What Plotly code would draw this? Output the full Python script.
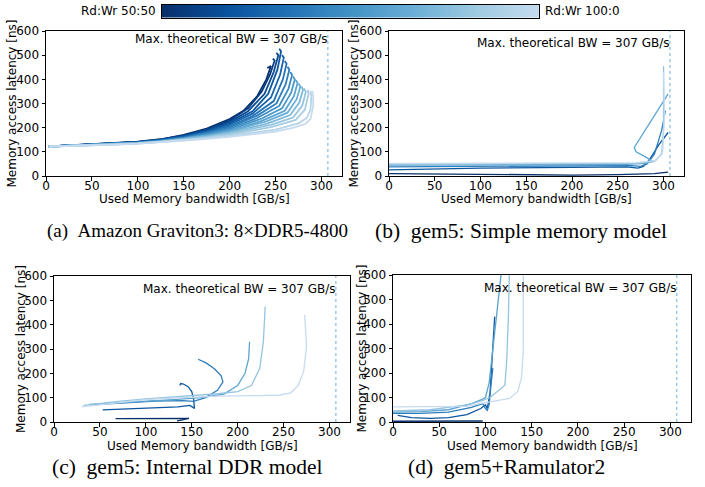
import plotly.graph_objects as go
from plotly.colors import sample_colorscale

# ---------------- data ----------------
MAX_BW = 307
X_TICKS = [0, 50, 100, 150, 200, 250, 300]
Y_TICKS = [0, 100, 200, 300, 400, 500, 600]
CBAR_LEFT = "Rd:Wr 50:50"
CBAR_RIGHT = "Rd:Wr 100:0"
ANNOT = "Max. theoretical BW = 307 GB/s"
X_TITLE = "Used Memory bandwidth [GB/s]"
Y_TITLE = "Memory access latency [ns]"
CAPTIONS = ["(a)\u2002Amazon Graviton3: 8\u00d7DDR5-4800",
            "(b)\u2002gem5: Simple memory model",
            "(c)\u2002gem5: Internal DDR model",
            "(d)\u2002gem5+Ramulator2"]

# (a) Amazon Graviton3 : curves ordered from Rd:Wr 50:50 (dark) to 100:0 (light)
A_X = [
    [3, 25, 50, 75, 100, 125, 150, 175, 200, 215, 230, 240, 245, 241],
    [3, 25, 50, 75, 100, 125, 150, 175, 200, 220, 235, 244, 249, 247],
    [3, 25, 50, 75, 100, 125, 150, 175, 200, 220, 238, 248, 253, 251],
    [3, 25, 50, 75, 100, 125, 150, 175, 200, 225, 242, 252, 256, 254],
    [3, 25, 50, 75, 100, 125, 150, 175, 200, 225, 245, 255, 259, 257],
    [3, 25, 50, 75, 100, 125, 150, 175, 200, 225, 248, 258, 262, 260],
    [3, 25, 50, 75, 100, 125, 150, 175, 200, 230, 251, 261, 265, 263],
    [3, 25, 50, 75, 100, 125, 150, 175, 200, 230, 254, 264, 268, 266],
    [3, 25, 50, 75, 100, 125, 150, 175, 200, 235, 257, 267, 271, 269],
    [3, 25, 50, 75, 100, 125, 150, 175, 200, 235, 260, 270, 274, 272],
    [3, 25, 50, 75, 100, 125, 150, 175, 200, 240, 263, 273, 277, 275],
    [3, 25, 50, 75, 100, 125, 150, 175, 200, 240, 266, 276, 280, 278],
    [3, 25, 50, 75, 100, 125, 150, 175, 200, 245, 269, 279, 283, 281],
    [3, 25, 50, 75, 100, 125, 150, 175, 200, 245, 272, 282, 286, 285],
    [3, 25, 50, 75, 100, 125, 150, 175, 200, 250, 275, 284, 288, 289, 288],
    [3, 25, 50, 75, 100, 125, 150, 175, 200, 250, 270, 282, 288, 291, 291, 290],
]
A_Y = [
    [122, 127, 131, 136, 142, 152, 170, 196, 236, 270, 330, 400, 455, 447],
    [122, 127, 131, 136, 141, 151, 168, 193, 230, 280, 350, 420, 478, 486],
    [122, 126, 130, 135, 140, 150, 166, 190, 224, 268, 340, 430, 500, 510],
    [122, 126, 130, 135, 140, 149, 164, 186, 218, 268, 340, 440, 515, 527],
    [122, 126, 130, 134, 139, 148, 162, 183, 212, 258, 325, 420, 490, 500],
    [122, 126, 129, 134, 139, 147, 160, 180, 206, 248, 310, 400, 465, 476],
    [122, 125, 129, 133, 138, 146, 158, 177, 201, 250, 300, 380, 440, 452],
    [122, 125, 129, 133, 138, 145, 157, 174, 196, 240, 290, 360, 418, 430],
    [122, 125, 128, 133, 137, 144, 155, 171, 191, 238, 280, 345, 400, 412],
    [122, 125, 128, 132, 137, 143, 154, 168, 187, 228, 270, 330, 385, 396],
    [122, 125, 128, 132, 136, 142, 153, 166, 183, 226, 262, 318, 370, 382],
    [122, 125, 127, 131, 136, 142, 152, 164, 179, 216, 252, 305, 358, 370],
    [122, 124, 127, 131, 135, 141, 150, 161, 175, 212, 242, 290, 348, 362],
    [122, 124, 127, 131, 135, 141, 149, 159, 171, 202, 232, 275, 340, 356],
    [122, 124, 126, 130, 134, 140, 148, 156, 166, 192, 218, 240, 275, 330, 352],
    [122, 124, 126, 130, 134, 139, 147, 154, 162, 184, 200, 215, 235, 290, 330, 352],
]

# (b) gem5 simple memory model
B_X = [
    [0, 50, 100, 150, 200, 250, 290, 305],
    [0, 100, 200, 260, 272, 278, 285, 295, 305],
    [0, 100, 200, 265, 275, 282, 290, 298, 302],
    [0, 100, 200, 260, 280, 288, 282, 270, 268, 275, 290, 305],
    [0, 100, 200, 270, 290, 298, 300, 300],
    [0, 100, 200, 270, 292, 299, 301, 300],
]
B_Y = [
    [10, 8, 6, 4, 4, 6, 10, 16],
    [25, 33, 36, 38, 33, 40, 70, 130, 180],
    [38, 40, 42, 43, 40, 50, 90, 190, 270],
    [45, 46, 47, 48, 52, 60, 75, 100, 118, 160, 245, 340],
    [48, 49, 50, 52, 60, 90, 200, 455],
    [52, 52, 53, 55, 65, 100, 250, 430],
]

# (c) gem5 internal DDR model
C_X = [
    [67, 100, 140, 147, 140, 134],
    [53, 80, 110, 135, 148, 153, 152, 150, 146, 141, 138, 137],
    [45, 80, 110, 140, 152, 165, 178, 184, 182, 175, 166, 157],
    [38, 70, 100, 130, 160, 185, 200, 208, 212, 213],
    [32, 70, 100, 140, 175, 200, 215, 224, 228, 230],
    [30, 70, 100, 140, 180, 220, 245, 258, 266, 272, 275, 273],
]
C_Y = [
    [14, 14, 14, 15, 9, 5],
    [50, 54, 58, 62, 68, 56, 95, 125, 145, 156, 158, 150],
    [72, 80, 86, 88, 85, 100, 130, 165, 190, 218, 242, 258],
    [72, 78, 86, 92, 100, 115, 150, 200, 260, 330],
    [68, 85, 95, 105, 115, 125, 150, 220, 330, 475],
    [62, 80, 92, 100, 106, 108, 110, 120, 150, 210, 310, 440],
]

# (d) gem5 + Ramulator2
D_X = [
    [0, 40, 80, 97],
    [5, 20, 40, 60, 80, 95, 100, 102, 105, 108, 110],
    [0, 30, 60, 85, 97, 100, 102, 104, 106, 108],
    [0, 30, 60, 85, 95, 100, 104, 108, 112, 118],
    [0, 40, 80, 95, 105, 115, 121, 123, 125, 126],
    [0, 40, 80, 94, 110, 126, 135, 139, 141, 141],
]
D_Y = [
    [3, 3, 3, 4],
    [27, 18, 15, 18, 30, 55, 70, 55, 120, 300, 430],
    [35, 35, 40, 60, 75, 55, 48, 70, 150, 220],
    [40, 42, 50, 75, 90, 100, 160, 300, 450, 640],
    [45, 50, 70, 85, 100, 130, 150, 250, 450, 640],
    [62, 62, 64, 75, 85, 96, 125, 180, 293, 640],
]

# ---------------- style ----------------
W, H = 705, 487
BLUES = [[0.0, '#08306b'], [0.167, '#08519c'], [0.333, '#2171b5'], [0.5, '#4292c6'],
         [0.667, '#6baed6'], [0.833, '#9ecae1'], [1.0, '#c6dbef']]
SANS = "DejaVu Sans"
SERIF = "Liberation Serif"
FS = 12

# panel boxes in pixels: (left, right, top, bottom)
BOXES = [(46, 342, 31, 176), (389, 684, 31, 176), (54, 350, 276, 422), (393, 691, 275, 422)]
CBAR_BOX = (162, 539, 4.5, 18)


def px(xp):
    return xp / W


def py(yp):
    return 1 - yp / H


fig = go.Figure()

panels = [(A_X, A_Y, 1.8), (B_X, B_Y, 1.3), (C_X, C_Y, 1.3), (D_X, D_Y, 1.3)]
for k, (xs, ys, lw) in enumerate(panels):
    n = len(xs)
    cols = sample_colorscale(BLUES, [i / (n - 1) for i in range(n)])
    xa = 'x' if k == 0 else f'x{k + 1}'
    ya = 'y' if k == 0 else f'y{k + 1}'
    for i in range(n):
        fig.add_trace(go.Scatter(x=xs[i], y=ys[i], mode='lines',
                                 line=dict(color=cols[i], width=lw),
                                 xaxis=xa, yaxis=ya, showlegend=False,
                                 hoverinfo='skip'))

# colour bar drawn as a gradient strip on its own axes
grad = [i / 199 for i in range(200)]
fig.add_trace(go.Heatmap(z=[grad, grad], x0=0, dx=1 / 199, y=[0, 1], colorscale=BLUES,
                         zmin=0, zmax=1, showscale=False, zsmooth='best',
                         xaxis='x5', yaxis='y5', hoverinfo='skip'))

layout = dict(width=W, height=H, margin=dict(l=0, r=0, t=0, b=0, autoexpand=False),
              paper_bgcolor='white', plot_bgcolor='white', showlegend=False)

annotations = []
shapes = []
annot_y = [565, 550, 548, 548]
xt_y = [199, 199, 445.5, 445.5]
yt_x = [12, 354, 21, 361]
cap_pos = [(197, 231), (521, 231), (187, 466.5), (506, 466.5)]
cap_size = [19, 21.5, 21.5, 21.5]

for k, (l, r, t, b) in enumerate(BOXES):
    sfx = '' if k == 0 else str(k + 1)
    axis_common = dict(showgrid=False, zeroline=False, showline=True, mirror=True,
                       linecolor='black', linewidth=1, ticks='outside', ticklen=3.5,
                       tickwidth=1, tickcolor='black',
                       tickfont=dict(family=SANS, size=FS, color='black'))
    layout['xaxis' + sfx] = dict(domain=[px(l), px(r)], range=[0, 322.35], tickvals=X_TICKS,
                                 anchor='y' + sfx, ticklabelstandoff=-5, **axis_common)
    layout['yaxis' + sfx] = dict(domain=[py(b), py(t)], range=[0, 600], tickvals=Y_TICKS,
                                 anchor='x' + sfx, **axis_common)
    annotations.append(dict(text=ANNOT, x=309, y=annot_y[k], xref='x' + sfx, yref='y' + sfx,
                            xanchor='right', yanchor='middle', showarrow=False,
                            font=dict(family=SANS, size=FS, color='black')))
    annotations.append(dict(text=X_TITLE, x=px((l + r) / 2), y=py(xt_y[k]), xref='paper', yref='paper',
                            xanchor='center', yanchor='middle', showarrow=False,
                            font=dict(family=SANS, size=FS, color='black')))
    annotations.append(dict(text=Y_TITLE, x=px(yt_x[k]), y=py((t + b) / 2), xref='paper', yref='paper',
                            xanchor='center', yanchor='middle', showarrow=False, textangle=-90,
                            font=dict(family=SANS, size=FS, color='black')))
    annotations.append(dict(text=CAPTIONS[k], x=px(cap_pos[k][0]), y=py(cap_pos[k][1]),
                            xref='paper', yref='paper', xanchor='center', yanchor='middle',
                            showarrow=False, font=dict(family=SERIF, size=cap_size[k], color='black')))
    shapes.append(dict(type='line', xref='x' + sfx, yref=f'y{sfx} domain', x0=MAX_BW, x1=MAX_BW,
                       y0=0, y1=1, line=dict(color='#6baed6', width=1, dash='dot')))

cl, cr, ct, cb = CBAR_BOX
layout['xaxis5'] = dict(domain=[px(cl), px(cr)], range=[0, 1], anchor='y5', showgrid=False,
                        zeroline=False, showticklabels=False, ticks='', showline=True, mirror=True,
                        linecolor='black', linewidth=1)
layout['yaxis5'] = dict(domain=[py(cb), py(ct)], range=[0, 1], anchor='x5', showgrid=False,
                        zeroline=False, showticklabels=False, ticks='', showline=True, mirror=True,
                        linecolor='black', linewidth=1)

annotations.append(dict(text=CBAR_LEFT, x=px(158), y=py(11), xref='paper', yref='paper',
                        xanchor='right', yanchor='middle', showarrow=False,
                        font=dict(family=SANS, size=FS, color='black')))
annotations.append(dict(text=CBAR_RIGHT, x=px(543), y=py(11), xref='paper', yref='paper',
                        xanchor='left', yanchor='middle', showarrow=False,
                        font=dict(family=SANS, size=FS, color='black')))

layout['annotations'] = annotations
layout['shapes'] = shapes
fig.update_layout(**layout)
fig.write_html("out.html", config={'displayModeBar': False, 'staticPlot': True},
               post_script="document.body.style.margin='0px';document.body.style.padding='0px';")
